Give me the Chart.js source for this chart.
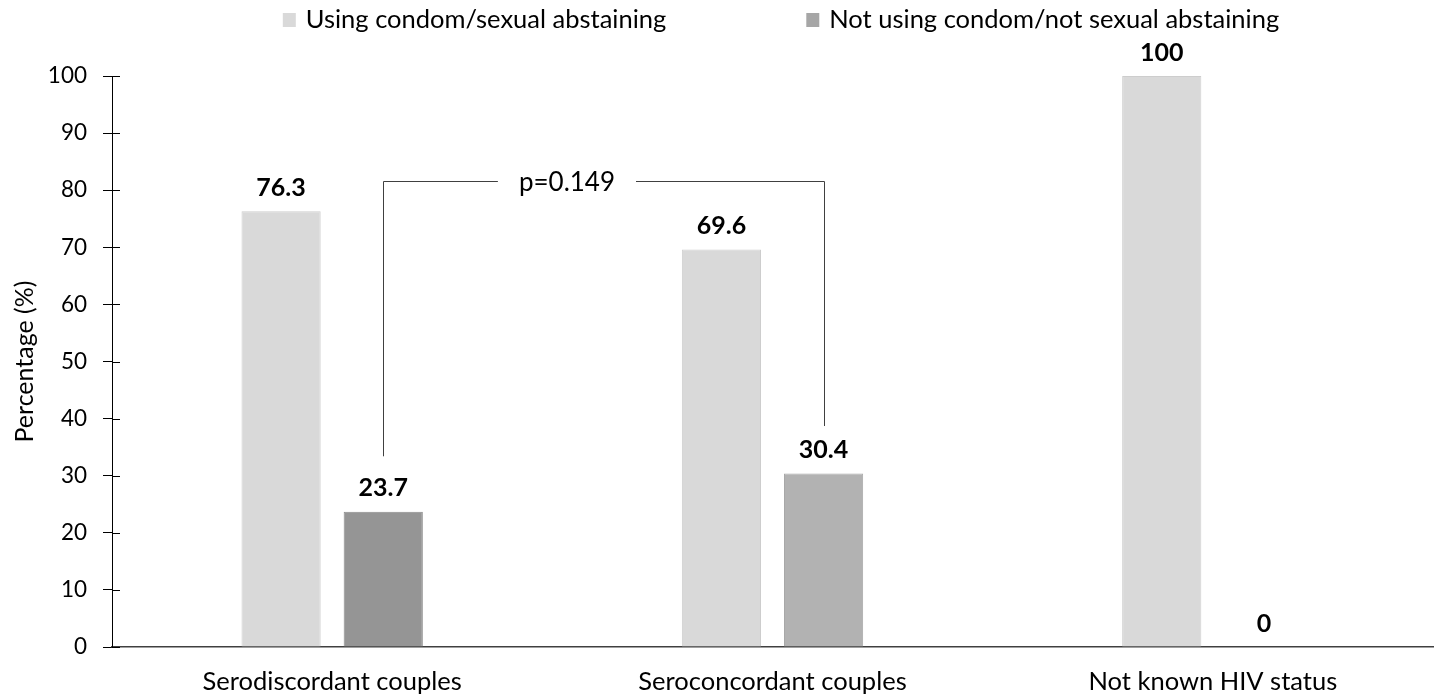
<!DOCTYPE html>
<html>
<head>
<meta charset="utf-8">
<script src="https://cdn.jsdelivr.net/npm/chart.js@4.4.0/dist/chart.umd.min.js"></script>
<style>
	html, body { margin: 0; padding: 0; background: #fff; }
	canvas { display: block; }
</style>
</head>
<body>
<canvas id="condomChart" width="1439" height="696"></canvas>
<script>
const categories = ["Serodiscordant couples", "Seroconcordant couples", "Not known HIV status"];
const seriesNames = ["Using condom/sexual abstaining", "Not using condom/not sexual abstaining"];
const usingCondom = [76.3, 69.6, 100];
const notUsingCondom = [23.7, 30.4, 0];
const yMin = 0;
const yMax = 100;
const yStep = 10;

// p-value bracket between the two "not using" bars (values in %)
const pValueText = "p=0.149";
const bracketTop = 81.6;
const bracketLeftEnd = 33.4;
const bracketRightEnd = 38.7;

const FONT = "Lato, 'Open Sans', sans-serif";
const lightGray = "#d9d9d9";
const darkColors = ["#959595", "#b2b2b2", "#b2b2b2"];
const legendColors = [lightGray, "#a6a6a6"];

// small ticks on the inside of the y axis (Excel cross ticks)
const innerTicks = {
	id: "innerTicks",
	afterDraw(chart) {
		const ctx = chart.ctx;
		const y = chart.scales.y;
		const x0 = chart.chartArea.left;
		ctx.save();
		ctx.strokeStyle = "#000";
		ctx.lineWidth = 1;
		for (const t of y.ticks) {
			const py = Math.round(y.getPixelForValue(t.value)) + 0.5;
			ctx.beginPath();
			ctx.moveTo(x0, py);
			ctx.lineTo(x0 + 8, py);
			ctx.stroke();
		}
		ctx.restore();
	}
};

const valueLabels = {
	id: "valueLabels",
	afterDatasetsDraw(chart) {
		const ctx = chart.ctx;
		ctx.save();
		ctx.font = "bold 25px " + FONT;
		ctx.fillStyle = "#000";
		ctx.textAlign = "center";
		ctx.textBaseline = "bottom";
		chart.data.datasets.forEach((ds, i) => {
			const meta = chart.getDatasetMeta(i);
			meta.data.forEach((bar, j) => {
				ctx.fillText(String(ds.data[j]), bar.x, bar.y - 11);
			});
		});
		ctx.restore();
	}
};

const pBracket = {
	id: "pBracket",
	afterDraw(chart) {
		const ctx = chart.ctx;
		const y = chart.scales.y;
		const meta = chart.getDatasetMeta(1);
		const xL = Math.round(meta.data[0].x) + 0.5;
		const xR = Math.round(meta.data[1].x) + 0.5;
		const yTop = Math.round(y.getPixelForValue(bracketTop)) + 0.5;
		const yL = y.getPixelForValue(bracketLeftEnd);
		const yR = y.getPixelForValue(bracketRightEnd);

		ctx.save();
		ctx.font = "26px " + FONT;
		const tw = ctx.measureText(pValueText).width;
		const tx = xL + (xR - xL) * 0.416;
		ctx.strokeStyle = "#404040";
		ctx.lineWidth = 1;
		ctx.beginPath();
		ctx.moveTo(xL, yL);
		ctx.lineTo(xL, yTop);
		ctx.lineTo(tx - tw / 2 - 21, yTop);
		ctx.moveTo(tx + tw / 2 + 21, yTop);
		ctx.lineTo(xR, yTop);
		ctx.lineTo(xR, yR);
		ctx.stroke();
		ctx.fillStyle = "#000";
		ctx.textAlign = "center";
		ctx.textBaseline = "middle";
		ctx.fillText(pValueText, tx, yTop + 1);
		ctx.restore();
	}
};

const topLegend = {
	id: "topLegend",
	afterDraw(chart) {
		const ctx = chart.ctx;
		ctx.save();
		ctx.font = "25.5px " + FONT;
		const box = 13, gap = 10, itemGap = 140, cy = 20;
		const widths = seriesNames.map(n => ctx.measureText(n).width);
		const total = widths.reduce((a, b) => a + b, 0) + 2 * (box + gap) + itemGap;
		let x = 781 - total / 2;
		ctx.textBaseline = "middle";
		ctx.textAlign = "left";
		seriesNames.forEach((name, i) => {
			ctx.fillStyle = legendColors[i];
			ctx.fillRect(x, cy - 7, box, 14);
			x += box + gap;
			ctx.fillStyle = "#000";
			ctx.fillText(name, x, cy);
			x += widths[i] + itemGap;
		});
		ctx.restore();
	}
};

const ctx = document.getElementById("condomChart");
const chart = new Chart(ctx, {
	type: "bar",
	data: {
		labels: categories,
		datasets: [{
			label: seriesNames[0],
			data: usingCondom,
			backgroundColor: lightGray,
			borderColor: "#cdcdcd",
			borderWidth: 1,
			categoryPercentage: 0.464,
			barPercentage: 0.775
		}, {
			label: seriesNames[1],
			data: notUsingCondom,
			backgroundColor: darkColors,
			borderColor: ["#8a8a8a", "#a8a8a8", "#8a8a8a"],
			borderWidth: 1,
			categoryPercentage: 0.464,
			barPercentage: 0.775
		}]
	},
	options: {
		responsive: false,
		animation: false,
		layout: { padding: { top: 76, right: 6, left: 0, bottom: 0 } },
		plugins: {
			legend: { display: false },
			tooltip: { enabled: false }
		},
		scales: {
			x: {
				grid: { display: false, drawTicks: false },
				border: { display: true, color: "#404040", width: 1.5 },
				ticks: { font: { family: FONT, size: 25.5 }, color: "#000", padding: 19 },
				afterFit(s) { s.height = 49; }
			},
			y: {
				min: yMin,
				max: yMax,
				ticks: { stepSize: yStep, font: { family: FONT, size: 22.5 }, color: "#000", padding: 16 },
				grid: { drawOnChartArea: false, tickLength: 9, color: "#000", tickColor: "#000" },
				border: { color: "#000", width: 1 },
				title: {
					display: true,
					text: "Percentage (%)",
					font: { family: FONT, size: 25 },
					color: "#000",
					padding: { top: 10, bottom: 0 }
				},
				afterFit(s) { s.width = 112; }
			}
		}
	},
	plugins: [innerTicks, valueLabels, pBracket, topLegend]
});
</script>
</body>
</html>
